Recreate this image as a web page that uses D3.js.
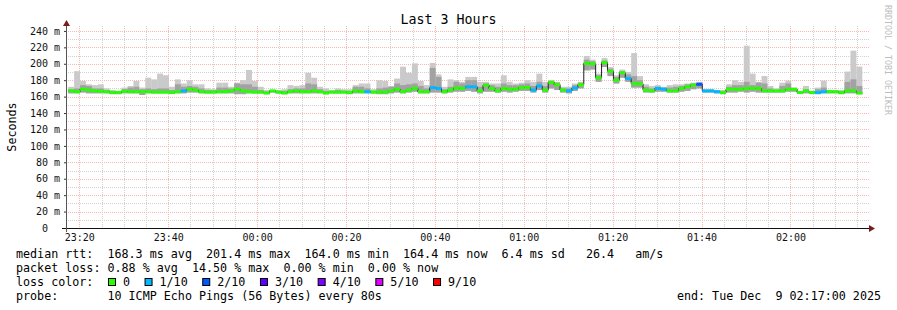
<!DOCTYPE html>
<html>
<head>
<meta charset="utf-8">
<script src="https://cdn.jsdelivr.net/npm/d3@7"></script>
<style>
body { margin: 0; background: #fff; }
svg text { font-family: "DejaVu Sans Mono", monospace; white-space: pre; }
</style>
</head>
<body>
<svg id="chart" width="897" height="310"></svg>
<script>
// smokeping style latency chart, last 3 hours

// median rtt per 80s step (ms)
var median = [
    167, 166, 169, 168, 167, 166.5, 166, 165, 165, 166.5,
    166, 166, 166, 166, 165.5, 165.5, 165.5, 165, 166, 167,
    169, 168, 166, 165.5, 165.5, 166, 166, 167, 169, 167,
    166, 165.5, 165.5, 164.5, 167, 165.5, 164.5, 166, 167, 166,
    166, 167, 166, 164.5, 165.5, 165.5, 165.5, 165, 167, 166,
    166, 165.5, 165.5, 165.5, 167, 169, 166, 168, 170, 166,
    166, 171, 170, 166, 168, 170.5, 170, 172, 172, 167,
    174, 170, 167, 170, 169, 169, 171, 171, 168, 173,
    168, 177.5, 174.5, 168, 167, 170.5, 174.5, 200.5, 200, 183,
    201.4, 191, 180, 189, 182, 176, 175.5, 168, 167, 170,
    169, 167, 167, 170, 172, 174, 175, 167, 167, 166,
    165, 169, 169, 169, 170, 170, 170, 167, 167, 167,
    167, 169, 169, 165, 167, 165, 165, 166, 166, 166,
    165, 167, 167, 164.4
];

// lost pings out of 10 per step
var loss = [
    0, 0, 0, 0, 0, 0, 0, 0, 0, 0,
    0, 0, 0, 0, 0, 0, 0, 0, 0, 1,
    0, 0, 0, 0, 0, 0, 0, 0, 0, 0,
    0, 0, 0, 0, 0, 0, 0, 0, 0, 0,
    0, 0, 0, 0, 0, 0, 0, 0, 0, 0,
    1, 0, 0, 0, 0, 0, 0, 0, 0, 0,
    0, 1, 1, 0, 0, 0, 0, 1, 1, 0,
    0, 0, 0, 0, 0, 0, 0, 0, 1, 1,
    0, 0, 0, 0, 1, 1, 0, 0, 0, 0,
    0, 0, 0, 0, 1, 0, 0, 0, 0, 1,
    1, 0, 0, 0, 0, 0, 2, 1, 1, 1,
    0, 0, 0, 0, 0, 0, 0, 0, 0, 0,
    0, 0, 0, 0, 0, 0, 1, 1, 0, 0,
    0, 0, 0, 0
];

// smoke: slowest ping, inner pings and fastest ping per step (ms)
var smokeHi = [
    172, 191, 179, 175, 174, 175, 170, 168, 167, 171,
    173, 179, 171, 183, 181, 188, 186, 172, 181, 176,
    180, 175, 175, 170, 169, 177, 177, 172, 177, 180,
    192.5, 179, 172, 168, 168, 168, 169, 174, 173, 174,
    189, 183, 172, 170, 168, 170, 169, 169, 174, 176,
    176, 169, 180, 179, 173, 182, 196.5, 189, 200.5, 179,
    174, 201, 187, 172, 181, 180, 178, 184, 184, 178,
    178, 176, 176, 186, 178, 176, 177, 180, 178, 188,
    178, 180, 178, 172, 172, 176, 178, 209.5, 205, 188,
    207, 196, 186, 193, 190, 213, 185, 175, 173, 174,
    172, 174, 175, 175, 176, 177, 178, 169, 169, 168,
    168, 175, 180, 178, 222, 188, 178, 185, 173, 170,
    177, 179.5, 171, 167, 173, 167, 171, 179.5, 168, 168,
    168, 190.5, 216, 196.6
];

var smokeMid = [
    169, 170, 174, 173, 170, 170, 168, 167, 166, 169,
    171, 172, 169, 170, 169, 170, 170, 168, 175, 172,
    173, 172, 170, 168, 168, 171, 171, 170, 176, 175,
    175, 172, 168, 166, 168, 167, 167, 169, 170, 170,
    176, 175, 169, 167, 167, 168, 167, 167, 172, 172,
    170, 167, 170, 171, 172, 176, 174, 175, 176, 173,
    170, 195, 184, 169, 172, 178, 176, 180, 180, 172,
    176, 174, 172, 176, 174, 174, 175, 176, 173, 178,
    173, 179, 177, 170, 170, 174, 177, 205, 203, 186,
    204, 194, 184, 191, 187, 185, 180, 172, 170, 172,
    171, 171, 172, 173, 175, 176, 177, 168, 168, 167,
    167, 172, 174, 174, 178, 174, 177, 176, 170, 168,
    173, 176, 170, 166, 169, 166, 169, 171, 167, 167,
    167, 178, 181, 173
];

var smokeLo = [
    164, 164, 165, 164, 164, 164, 164, 163, 163, 164,
    164, 164, 162, 164, 164, 164, 164, 164, 164, 164,
    165, 165, 164, 164, 164, 164, 164, 164, 163, 163,
    164, 164, 164, 163, 165, 164, 163, 164, 164, 164,
    164, 164, 164, 163, 164, 164, 164, 163, 164, 164,
    164, 164, 163, 163, 164, 165, 164, 165, 166, 164,
    164, 165, 165, 164, 165, 166, 166, 167, 166, 164,
    166, 166, 165, 166, 165, 166, 167, 167, 165, 168,
    165, 170, 168, 165, 164, 167, 170, 192, 193, 178,
    196, 185, 176, 183, 178, 171, 171, 165, 165, 166,
    166, 165, 165, 166, 167, 169, 170, 165, 165, 164,
    163, 165, 165, 166, 165, 166, 165, 165, 165, 165,
    165, 166, 166, 164, 164, 164, 163, 164, 164, 164,
    163, 164, 164, 163
];

// loss legend
var lossLabels = ["0", "1/10", "2/10", "3/10", "4/10", "5/10", "9/10"];
var lossLevels = [0, 1, 2, 3, 4, 5, 9];
var lossColors = ["#26ff00", "#00b8ff", "#0059ff", "#5e00ff", "#7e00ff", "#dd00ff", "#ff0000"];

var yMajor = [0, 20, 40, 60, 80, 100, 120, 140, 160, 180, 200, 220, 240];
var yMinor = [10, 30, 50, 70, 90, 110, 130, 150, 170, 190, 210, 230];

var legendLines = [
    "median rtt:  168.3 ms avg  201.4 ms max  164.0 ms min  164.4 ms now  6.4 ms sd   26.4   am/s",
    "packet loss: 0.88 % avg  14.50 % max  0.00 % min  0.00 % now",
    "loss color:",
    "probe:       10 ICMP Echo Pings (56 Bytes) every 80s"
];

var startTime = new Date(Date.UTC(2025, 11, 8, 23, 17, 0));
var endTime = new Date(Date.UTC(2025, 11, 9, 2, 17, 0));
var firstStep = Date.UTC(2025, 11, 8, 23, 17, 30);
var stepMs = 80 * 1000;

var svg = d3.select("#chart");

var x = d3.scaleUtc().domain([startTime, endTime]).range([66, 866]);
var y = d3.scaleLinear().domain([0, 246]).range([228, 26]);

function stepStart(i) { return x(new Date(firstStep + i * stepMs)); }
function stepEnd(i) { return x(new Date(firstStep + (i + 1) * stepMs)); }
function colorFor(n) { return lossColors[lossLevels.indexOf(n)]; }
function crisp(v) { return Math.round(v) + 0.5; }

////////////////////////////////////////////////
// grid

var grid = svg.append("g").attr("class", "grid");

var minorTimes = x.ticks(d3.utcMinute.every(5)).filter(function(d) { return d.getUTCMinutes() % 20 != 0; });
var majorTimes = x.ticks(d3.utcMinute.every(20));

grid.selectAll(".vminor").data(minorTimes).enter().append("line")
    .attr("x1", function(d) { return crisp(x(d)); })
    .attr("x2", function(d) { return crisp(x(d)); })
    .attr("y1", 26).attr("y2", 228)
    .attr("stroke", "#d2d2d2").attr("stroke-dasharray", "1,1");

grid.selectAll(".hminor").data(yMinor).enter().append("line")
    .attr("x1", 66).attr("x2", 869)
    .attr("y1", function(d) { return crisp(y(d)); })
    .attr("y2", function(d) { return crisp(y(d)); })
    .attr("stroke", "#d2d2d2").attr("stroke-dasharray", "1,1");

grid.selectAll(".vmajor").data(majorTimes).enter().append("line")
    .attr("x1", function(d) { return crisp(x(d)); })
    .attr("x2", function(d) { return crisp(x(d)); })
    .attr("y1", 26).attr("y2", 228)
    .attr("stroke", "#f7b8b8").attr("stroke-dasharray", "1,1");

grid.selectAll(".hmajor").data(yMajor.slice(1)).enter().append("line")
    .attr("x1", 66).attr("x2", 869)
    .attr("y1", function(d) { return crisp(y(d)); })
    .attr("y2", function(d) { return crisp(y(d)); })
    .attr("stroke", "#f7b8b8").attr("stroke-dasharray", "1,1");

////////////////////////////////////////////////
// smoke

var idx = d3.range(median.length);

svg.append("g").selectAll("rect").data(idx).enter().append("rect")
    .attr("x", function(i) { return stepStart(i); })
    .attr("width", function(i) { return stepEnd(i) - stepStart(i); })
    .attr("y", function(i) { return y(smokeHi[i]); })
    .attr("height", function(i) { return y(smokeLo[i]) - y(smokeHi[i]); })
    .attr("fill", "#cacaca");

svg.append("g").selectAll("rect").data(idx).enter().append("rect")
    .attr("x", function(i) { return stepStart(i); })
    .attr("width", function(i) { return stepEnd(i) - stepStart(i); })
    .attr("y", function(i) { return y(smokeMid[i]); })
    .attr("height", function(i) { return y(smokeLo[i]) - y(smokeMid[i]); })
    .attr("fill", "#a2a2a2");

////////////////////////////////////////////////
// median line and loss colored band

var pts = idx.map(function(i) { return [stepStart(i), y(median[i])]; });
pts.push([stepEnd(median.length - 1), y(median[median.length - 1])]);

svg.append("path")
    .datum(pts)
    .attr("d", d3.line().curve(d3.curveStepAfter))
    .attr("fill", "none")
    .attr("stroke", "#202020")
    .attr("stroke-width", 1);

svg.append("g").selectAll("rect").data(idx).enter().append("rect")
    .attr("x", function(i) { return stepStart(i); })
    .attr("width", function(i) { return stepEnd(i) - stepStart(i); })
    .attr("y", function(i) { return y(median[i]) - 1.5; })
    .attr("height", 3)
    .attr("fill", function(i) { return colorFor(loss[i]); });

////////////////////////////////////////////////
// axes

var yAxis = svg.append("g")
    .attr("transform", "translate(66,0)")
    .call(d3.axisLeft(y).tickValues(yMajor).tickSize(2).tickPadding(4)
        .tickFormat(function(d) { return d == 0 ? "0  " : d + " m"; }));
yAxis.select(".domain").remove();
yAxis.selectAll("line").attr("stroke", "#333");
yAxis.selectAll("text").attr("font-size", "10px").attr("fill", "#111")
    .attr("font-family", "DejaVu Sans Mono");

var xAxis = svg.append("g")
    .attr("transform", "translate(0,228)")
    .call(d3.axisBottom(x).ticks(d3.utcMinute.every(20)).tickSize(0).tickPadding(6)
        .tickFormat(d3.utcFormat("%H:%M")));
xAxis.select(".domain").remove();
xAxis.selectAll("text").attr("font-size", "10px").attr("fill", "#111")
    .attr("font-family", "DejaVu Sans Mono");

svg.append("line").attr("x1", 62).attr("x2", 870).attr("y1", 228.5).attr("y2", 228.5)
    .attr("stroke", "#111");
svg.append("line").attr("x1", 66.5).attr("x2", 66.5).attr("y1", 23).attr("y2", 232)
    .attr("stroke", "#555");

// arrows
svg.append("path").attr("d", "M869,225 L875,228.5 L869,232 Z").attr("fill", "#7a1c1c");
svg.append("path").attr("d", "M63,26 L66.5,20 L70,26 Z").attr("fill", "#7a1c1c");

////////////////////////////////////////////////
// texts

svg.append("text")
    .attr("x", 448.5).attr("y", 24)
    .attr("text-anchor", "middle")
    .attr("font-size", "13.3px")
    .text("Last 3 Hours");

svg.append("text")
    .attr("transform", "translate(16,127) rotate(-90)")
    .attr("text-anchor", "middle")
    .attr("font-size", "11.7px")
    .text("Seconds");

svg.append("text")
    .attr("transform", "translate(884.5,5) rotate(90)")
    .attr("font-size", "8.3px")
    .attr("fill", "#bdbdbd")
    .text("RRDTOOL / TOBI OETIKER");

svg.append("g").selectAll("text").data(legendLines).enter().append("text")
    .attr("x", 16)
    .attr("y", function(d, i) { return 258 + i * 14; })
    .attr("font-size", "11.7px")
    .text(function(d) { return d; });

// loss color swatches
var charW = 7.05;
var sx = 108;
lossLabels.forEach(function(lbl, i) {
    svg.append("rect")
        .attr("x", sx + 0.5).attr("y", 278.5)
        .attr("width", 7).attr("height", 7)
        .attr("fill", lossColors[i])
        .attr("stroke", "#000");
    svg.append("text")
        .attr("x", sx + 15).attr("y", 286)
        .attr("font-size", "11.7px")
        .text(lbl);
    sx = sx + 15 + lbl.length * charW + 14.5;
});

svg.append("text")
    .attr("x", 881).attr("y", 300)
    .attr("text-anchor", "end")
    .attr("font-size", "11.7px")
    .text("end: Tue Dec  9 02:17:00 2025");
</script>
</body>
</html>
